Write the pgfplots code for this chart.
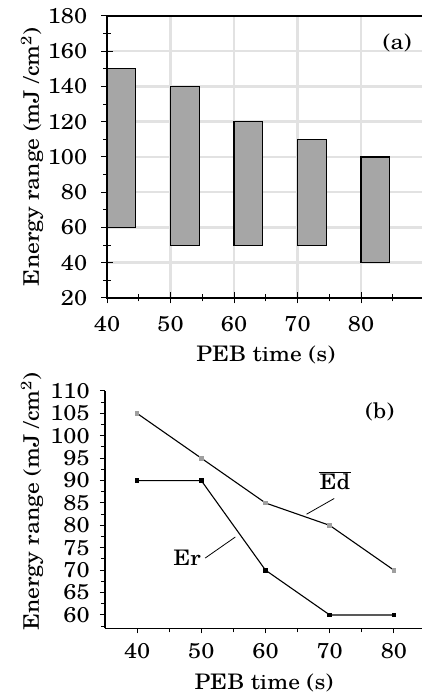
\documentclass[border=0pt]{standalone}
\usepackage{fontspec}
\setmainfont{texgyreschola-regular.otf}[FakeStretch=1.1]
\usepackage{pgfplots}
\pgfplotsset{compat=1.18}
\definecolor{gridgray}{RGB}{226,226,226}
\definecolor{barfill}{RGB}{166,166,166}
\newcommand{\bigfont}{\fontsize{21.5}{25}\selectfont}
\begin{document}
\bigfont
\begin{tikzpicture}
\useasboundingbox (0,0) rectangle (422bp,696bp);
\pgfplotsset{
  every axis/.append style={
    scale only axis, clip=false,
    /pgf/number format/assume math mode=true,
    tick label style={font=\bigfont},
    label style={font=\bigfont},
    axis line style={line width=1.1bp, black},
    tick style={line width=1bp, black},
  }
}
% ---------------- panel (a)
\begin{axis}[
  at={(107bp,398bp)}, anchor=south west,
  width=317.5bp, height=282bp,
  xmin=40, xmax=90, ymin=20, ymax=180,
  xtick={40,50,...,80}, ytick={20,40,...,180},
  minor xtick={45,55,...,85}, minor ytick={30,50,...,170},
  xtick pos=left, ytick pos=left,
  tick align=center,
  major tick length=11bp, minor tick length=7bp,
  grid=major, major grid style={line width=2.5bp, gridgray},
  xticklabel style={yshift=-6bp},
  yticklabel style={xshift=-7bp},
  xlabel={PEB time (s)},
  xlabel style={at={(axis description cs:0.5,0)}, anchor=center, yshift=-57bp},
  ylabel={Energy range (mJ /cm\textsuperscript{2})},
  ylabel style={at={([xshift=-75bp]axis description cs:0,0.5)}, anchor=center},
]
\addplot[draw=black, line width=1.1bp, fill=barfill] coordinates {(40,60) (44.5,60) (44.5,150) (40,150)} -- cycle;
\addplot[draw=black, line width=1.1bp, fill=barfill] coordinates {(50,50) (54.5,50) (54.5,140) (50,140)} -- cycle;
\addplot[draw=black, line width=1.1bp, fill=barfill] coordinates {(60,50) (64.5,50) (64.5,120) (60,120)} -- cycle;
\addplot[draw=black, line width=1.1bp, fill=barfill] coordinates {(70,50) (74.5,50) (74.5,110) (70,110)} -- cycle;
\addplot[draw=black, line width=1.1bp, fill=barfill] coordinates {(80,40) (84.5,40) (84.5,100) (80,100)} -- cycle;
\node at (axis cs:85.7,164.7) {(a)};
\end{axis}
% ---------------- panel (b)
\begin{axis}[
  at={(105bp,67.6bp)}, anchor=south west,
  width=317.8bp, height=237.4bp,
  xmin=35, xmax=84.5, ymin=57, ymax=110,
  axis x line*=bottom, axis y line*=left,
  xtick={40,50,...,80}, ytick={60,65,...,110},
  minor xtick={45,55,65,75}, minor ytick={57.5,62.5,...,107.5},
  tick align=outside,
  major tick length=5bp, minor tick length=4bp,
  xticklabel style={yshift=-3bp},
  yticklabel style={xshift=-3bp},
  xlabel={PEB time (s)},
  xlabel style={at={(axis description cs:0.5,0)}, anchor=center, yshift=-55bp},
  ylabel={Energy range (mJ /cm\textsuperscript{2})},
  ylabel style={at={([xshift=-73bp,yshift=8bp]axis description cs:0,0.5)}, anchor=center},
]
\addplot[black, line width=1.1bp, mark=square*, mark size=1.8bp,
  mark options={fill=gray!75, draw=gray!75}]
  coordinates {(40,105) (50,95) (60,85) (70,80) (80,70)};
\addplot[black, line width=1.1bp, mark=square*, mark size=1.8bp,
  mark options={fill=black, draw=black}]
  coordinates {(40,90) (50,90) (60,70) (70,60) (80,60)};
\node at (axis cs:47.8,72.7) {Er};
\draw[line width=0.8bp] (axis cs:50.6,72.7) -- (axis cs:55.3,77.4);
\node at (axis cs:70.8,89.9) {$\overline{\hbox{\kern1pt Ed\kern1pt}}$};
\draw[line width=0.8bp] (axis cs:70.7,86.0) -- (axis cs:66.4,82.5);
\node at (axis cs:77.8,105.3) {(b)};
\end{axis}
\end{tikzpicture}
\end{document}
